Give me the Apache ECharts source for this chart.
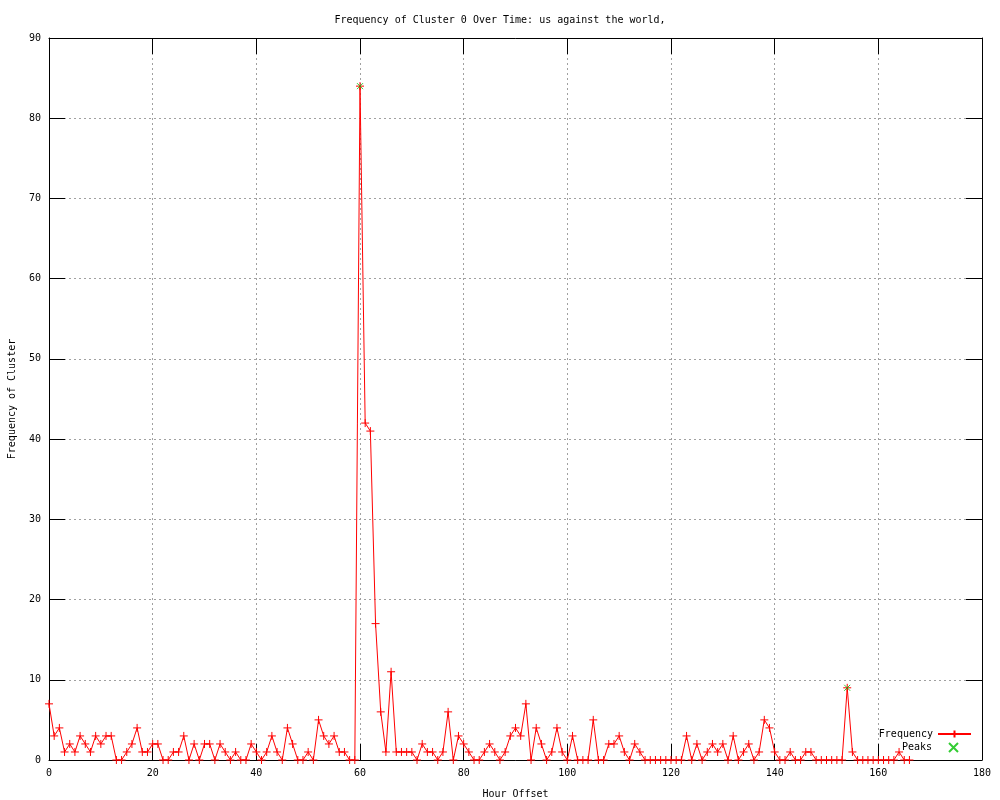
<!DOCTYPE html>
<html>
<head>
<meta charset="utf-8">
<script src="https://cdn.jsdelivr.net/npm/echarts@6/dist/echarts.min.js"></script>
<style>
html,body{margin:0;padding:0;background:#fff;}
#chart{width:1000px;height:800px;}
</style>
</head>
<body>
<div id="chart"></div>
<script>
var titleText = 'Frequency of Cluster 0 Over Time: us against the world,';
var hours = [0,1,2,3,4,5,6,7,8,9,10,11,12,13,14,15,16,17,18,19,20,21,22,23,24,25,26,27,28,29,
  30,31,32,33,34,35,36,37,38,39,40,41,42,43,44,45,46,47,48,49,50,51,52,53,54,55,56,57,58,59,
  60,61,62,63,64,65,66,67,68,69,70,71,72,73,74,75,76,77,78,79,80,81,82,83,84,85,86,87,88,89,
  90,91,92,93,94,95,96,97,98,99,100,101,102,103,104,105,106,107,108,109,110,111,112,113,114,
  115,116,117,118,119,120,121,122,123,124,125,126,127,128,129,130,131,132,133,134,135,136,137,
  138,139,140,141,142,143,144,145,146,147,148,149,150,151,152,153,154,155,156,157,158,159,160,
  161,162,163,164,165,166];
var frequency = [7,3,4,1,2,1,3,2,1,3,2,3,3,0,0,1,2,4,1,1,2,2,0,0,1,1,3,0,2,0,
  2,2,0,2,1,0,1,0,0,2,1,0,1,3,1,0,4,2,0,0,1,0,5,3,2,3,1,1,0,0,
  84,42,41,17,6,1,11,1,1,1,1,0,2,1,1,0,1,6,0,3,2,1,0,0,1,2,1,0,1,3,
  4,3,7,0,4,2,0,1,4,1,0,3,0,0,0,5,0,0,2,2,3,1,0,2,1,
  0,0,0,0,0,0,0,0,3,0,2,0,1,2,1,2,0,3,0,1,2,0,1,
  5,4,1,0,0,1,0,0,1,1,0,0,0,0,0,0,9,1,0,0,0,0,0,
  0,0,0,1,0,0];
var peakHours = [60, 154];
var peakValues = [84, 9];
var xTicks = {min: 0, max: 180, interval: 20};
var yTicks = {min: 0, max: 90, interval: 10};

var freqData = hours.map(function (h, i) { return [h, frequency[i]]; });
var peakData = peakHours.map(function (h, i) { return [h, peakValues[i]]; });

var FONT = 'DejaVu Sans Mono';
var plus = 'path://M0,5L10,5M5,0L5,10';
var cross = 'path://M0,0L10,10M10,0L0,10';

function mirrorAxis(pos, t) {
  return {
    type: 'value', position: pos, min: t.min, max: t.max, interval: t.interval,
    axisLine: {show: true, onZero: false, lineStyle: {color: '#000', width: 1}},
    axisTick: {show: true, inside: true, length: 16, lineStyle: {color: '#000'}},
    axisLabel: {show: false}, splitLine: {show: false}
  };
}

var chart = echarts.init(document.getElementById('chart'), null, {renderer: 'canvas'});
chart.setOption({
  animation: false,
  backgroundColor: '#fff',
  title: {
    text: titleText, left: 'center', top: 10,
    textStyle: {fontFamily: FONT, fontSize: 10, fontWeight: 'normal', color: '#000'}
  },
  grid: {left: 49, top: 38, width: 933, height: 722, containLabel: false, outerBoundsMode: 'none'},
  legend: [{
    data: ['Frequency'], orient: 'vertical', right: 23, top: 724, align: 'right',
    itemWidth: 33, itemHeight: 9, itemGap: 4,
    textStyle: {fontFamily: FONT, fontSize: 10, color: '#000'}
  }, {
    data: ['Peaks'], orient: 'vertical', right: 36, top: 737, align: 'right',
    itemWidth: 33, itemHeight: 9, itemGap: 4,
    textStyle: {fontFamily: FONT, fontSize: 10, color: '#000'}
  }],
  xAxis: [{
    type: 'value', position: 'bottom', min: xTicks.min, max: xTicks.max, interval: xTicks.interval,
    name: 'Hour Offset', nameLocation: 'middle', nameGap: 29,
    nameTextStyle: {fontFamily: FONT, fontSize: 10, color: '#000'},
    axisLine: {show: true, onZero: false, lineStyle: {color: '#000', width: 1}},
    axisTick: {show: true, inside: true, length: 16, lineStyle: {color: '#000'}},
    axisLabel: {fontFamily: FONT, fontSize: 10, color: '#000', margin: 8},
    splitLine: {show: true, lineStyle: {color: '#a0a0a0', width: 1, type: [2, 3]}}
  }, mirrorAxis('top', xTicks)],
  yAxis: [{
    type: 'value', position: 'left', min: yTicks.min, max: yTicks.max, interval: yTicks.interval,
    name: 'Frequency of Cluster', nameLocation: 'middle', nameGap: 32,
    nameTextStyle: {fontFamily: FONT, fontSize: 10, color: '#000'},
    axisLine: {show: true, onZero: false, lineStyle: {color: '#000', width: 1}},
    axisTick: {show: true, inside: true, length: 16, lineStyle: {color: '#000'}},
    axisLabel: {fontFamily: FONT, fontSize: 10, color: '#000', margin: 8},
    splitLine: {show: true, lineStyle: {color: '#a0a0a0', width: 1, type: [2, 3]}}
  }, mirrorAxis('right', yTicks)],
  series: [{
    name: 'Frequency', type: 'line', data: freqData, xAxisIndex: 0, yAxisIndex: 0,
    symbol: plus, symbolSize: 8, showAllSymbol: true,
    lineStyle: {color: '#ff0000', width: 1},
    itemStyle: {color: '#ff0000', borderColor: '#ff0000', borderWidth: 1},
    z: 3
  }, {
    name: 'Peaks', type: 'scatter', data: peakData, xAxisIndex: 0, yAxisIndex: 0,
    symbol: cross, symbolSize: 6,
    itemStyle: {color: '#00c000', borderColor: '#00c000', borderWidth: 1},
    z: 4
  }]
});
</script>
</body>
</html>
